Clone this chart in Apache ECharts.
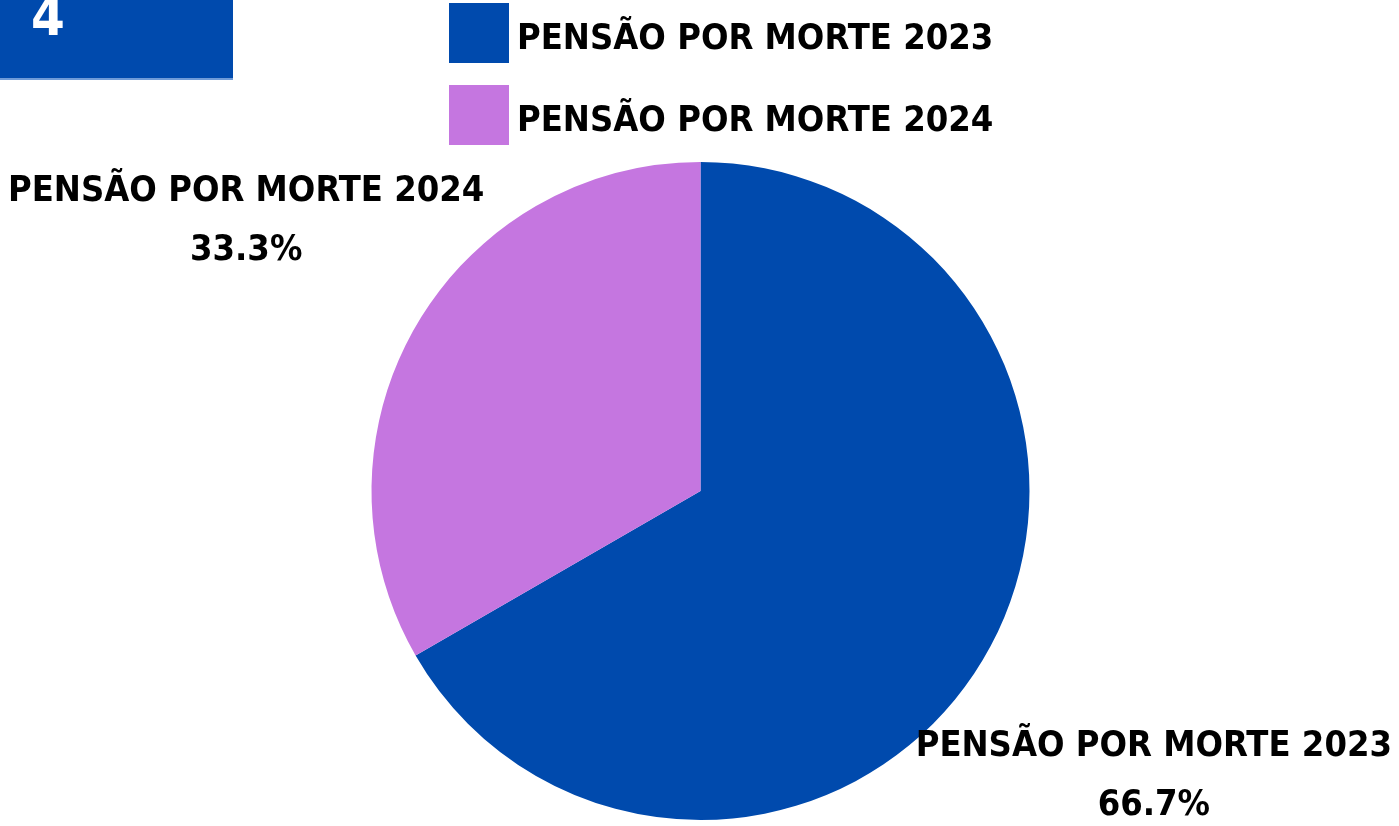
<!DOCTYPE html>
<html><head><meta charset="utf-8">
<script src="https://cdn.jsdelivr.net/npm/echarts@6/dist/echarts.min.js"></script>
<style>html,body{margin:0;padding:0;background:#fff}#c{width:1399px;height:826px}</style>
</head><body><div id="c"></div>
<script>
const categories = ['PENSÃO POR MORTE 2023', 'PENSÃO POR MORTE 2024'];
const values = [2, 1];
const colors = ['#004AAD', '#C576E0'];
const badgeText = '4';

const FONT = "'Liberation Sans Narrow', 'DejaVu Sans Condensed', sans-serif";
const chart = echarts.init(document.getElementById('c'));
chart.setOption({
  animation: false,
  legend: {
    orient: 'vertical', left: 444, top: -2,
    itemWidth: 60, itemHeight: 60, itemGap: 22,
    icon: 'rect',
    formatter: n => '{a|' + n + '}',
    textStyle: {
      fontFamily: FONT, fontSize: 36, fontWeight: 'bold', color: '#000',
      rich: { a: { fontFamily: FONT, fontSize: 36, fontWeight: 'bold', color: '#000', padding: [14, 0, 0, 3] } }
    },
    data: categories
  },
  graphic: [
    { type: 'rect', left: 0, top: 0, shape: { width: 233, height: 78 }, style: { fill: '#004AAD' } },
    { type: 'rect', left: 0, top: 78, shape: { width: 233, height: 2 }, style: { fill: '#6F9BD8' } },
    { type: 'text', left: 31, top: -6, style: { text: badgeText, fill: '#fff', font: "bold 54px " + FONT } }
  ],
  series: [{
    type: 'pie',
    center: [700.5, 491],
    radius: 329,
    startAngle: 90,
    clockwise: true,
    data: categories.map((n, i) => ({ name: n, value: values[i], itemStyle: { color: colors[i] } })),
    label: {
      show: true,
      formatter: p => p.name + '\n' + p.percent.toFixed(1) + '%',
      fontFamily: FONT, fontSize: 36, fontWeight: 'bold', color: '#000',
      lineHeight: 59, align: 'center', overflow: 'none'
    },
    labelLine: { show: false },
    labelLayout: p => {
      const w = p.labelRect.width;
      if (p.dataIndex === 0) return { x: 1392 - w / 2, y: 776, align: 'center', verticalAlign: 'middle' };
      return { x: 8 + w / 2, y: 221, align: 'center', verticalAlign: 'middle' };
    }
  }]
});
</script></body></html>
